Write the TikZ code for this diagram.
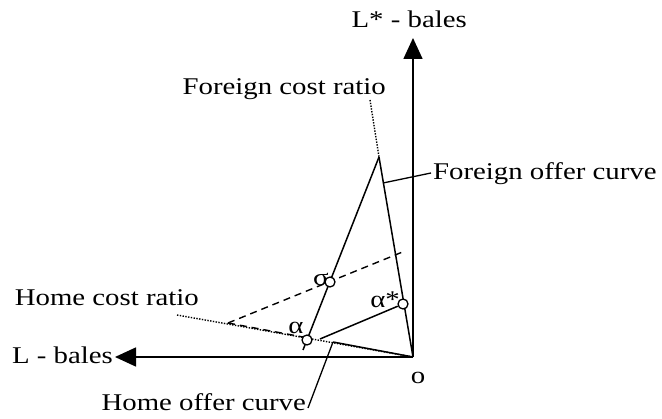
\documentclass[tikz,border=0pt]{standalone}
\usepackage{fontspec}
\setmainfont{Liberation Serif}[FakeStretch=1.2]
\usepackage{tikz}
\usetikzlibrary{arrows.meta}
\tikzset{
  axis/.style={line width=1.6pt, -{Triangle[length=21pt,width=19pt]}},
  curve/.style={line width=1.5pt},
  costline/.style={line width=1.4pt, dash pattern=on 1.4pt off 1.4pt},
  guide/.style={line width=1.4pt, dash pattern=on 7pt off 5pt},
  pointer/.style={line width=1.3pt},
  eqpt/.style={circle, draw, line width=1.3pt, fill=white, inner sep=0pt, minimum size=10pt},
  lbl/.style={inner sep=0pt}
}

\begin{document}
\begin{tikzpicture}[x=1pt, y=-1pt, font=\fontsize{24}{28}\selectfont]
    \useasboundingbox (0,0) rectangle (662,419);
    \coordinate (O) at (413,357);
    \coordinate (ytip) at (413,38);
    \coordinate (xtip) at (115,357);
    \coordinate (apex) at (379,157);
    \coordinate (lowend) at (303,350);
    \coordinate (hcr) at (177,315);
    \coordinate (fcr) at (370,100);
    \coordinate (vtx) at (228,323);
    \coordinate (vtxend) at (303,337);
    \coordinate (dashend) at (405,251);
    \coordinate (aend) at (320,339);
    \coordinate (hoc) at (333,342);
    \coordinate (hocfoot) at (308,408);
    \coordinate (foc) at (383,183);
    \coordinate (focfoot) at (431,173);

    \draw[axis] (O) -- (ytip);
    \draw[axis] (O) -- (xtip);
    \draw[costline] (hcr) -- (O);
    \draw[costline] (fcr) -- (apex);
    \draw[curve] (apex) -- (O);
    \draw[curve] (apex) -- (lowend);
    \draw[guide] (vtx) -- (dashend);
    \draw[guide] (vtx) -- (vtxend);
    \draw[curve] (hoc) -- (O);
    \draw[pointer] (hocfoot) -- (hoc);
    \draw[pointer] (foc) -- (focfoot);

    \node[lbl] (sig) at (321,279) {σ};
    \node[eqpt] (s) at (330,282) {};
    \node[lbl] (al) at (296,328) {α};
    \node[eqpt] (a) at (307,340) {};
    \node[lbl] (als) at (385,300) {α*};
    \node[eqpt] (as) at (403,304) {};
    \draw[curve] (as) -- (aend);

    \node[lbl, anchor=base east] (ylab) at (467,28) {L* - bales};
    \node[lbl, anchor=base east] (xlab) at (113,364) {L - bales};
    \node[lbl, anchor=base east] (fcrlab) at (386,95) {Foreign cost ratio};
    \node[lbl, anchor=base west] (foclab) at (433,180) {Foreign offer curve};
    \node[lbl, anchor=base east] (hcrlab) at (199,306) {Home cost ratio};
    \node[lbl, anchor=base east] (hoclab) at (306,411) {Home offer curve};
    \node[lbl] (olab) at (418,378) {o};
  \end{tikzpicture}
\end{document}
